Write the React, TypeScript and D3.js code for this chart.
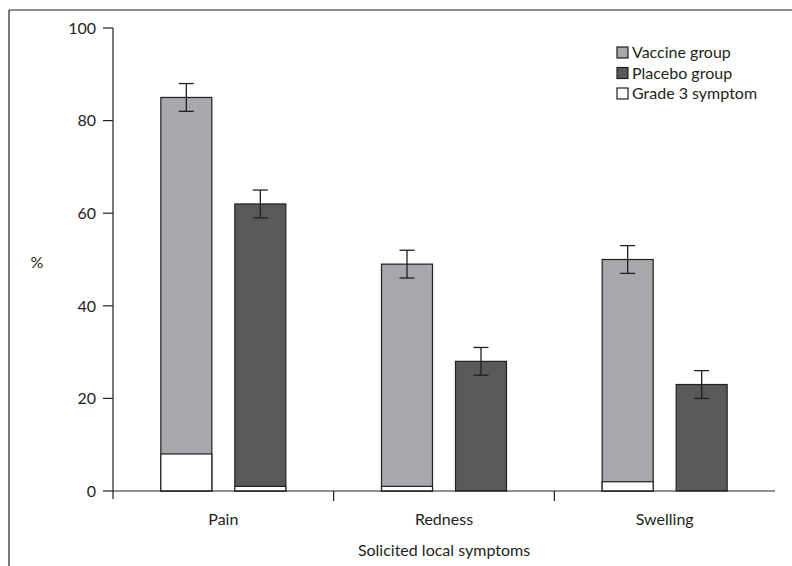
import React from "react";
import * as d3 from "d3";

const categories = ["Pain", "Redness", "Swelling"];
const vaccineValues = [85, 49, 50];
const vaccineErrors = [3, 3, 3];
const vaccineGrade3 = [8, 1, 2];
const placeboValues = [62, 28, 23];
const placeboErrors = [3, 3, 3];
const placeboGrade3 = [1, 0, 0];
const yTicks = [0, 20, 40, 60, 80, 100];
const legendLabels = ["Vaccine group", "Placebo group", "Grade 3 symptom"];

const W = 792;
const H = 566;
const FONT = "Lato, 'Open Sans', sans-serif";
const C_VAC = "#a7a8ab";
const C_PLA = "#58595b";
const C_STROKE = "#231f20";

export default function App() {
  const x = d3.scaleBand<string>().domain(categories).range([113, 775]).padding(0);
  const y = d3.scaleLinear().domain([0, 100]).range([491, 28]);
  const barW = 51;
  const off = 37;
  const cap = 7.5;

  const groups = [
    { vals: vaccineValues, errs: vaccineErrors, g3: vaccineGrade3, color: C_VAC, dx: -off },
    { vals: placeboValues, errs: placeboErrors, g3: placeboGrade3, color: C_PLA, dx: off },
  ];

  const legendColors = [C_VAC, C_PLA, "#ffffff"];

  return (
    <svg
      width={W}
      height={H}
      style={{ position: "absolute", left: 0, top: 0, background: "#fff" }}
      fontFamily={FONT}
    >
      {/* frame */}
      <line x1={9} y1={10} x2={W} y2={10} stroke={C_STROKE} strokeWidth={1.2} />
      <line x1={9} y1={10} x2={9} y2={H} stroke={C_STROKE} strokeWidth={1.2} />

      {/* bars */}
      {categories.map((c, i) => {
        const cx = (x(c) as number) + x.bandwidth() / 2;
        return (
          <g key={c}>
            {groups.map((g, j) => {
              const bx = cx + g.dx - barW / 2;
              const v = g.vals[i];
              const e = g.errs[i];
              const g3 = g.g3[i];
              const bc = cx + g.dx;
              return (
                <g key={j}>
                  <rect
                    x={bx}
                    y={y(v)}
                    width={barW}
                    height={y(0) - y(v)}
                    fill={g.color}
                    stroke={C_STROKE}
                    strokeWidth={1.2}
                  />
                  {g3 > 0 && (
                    <rect
                      x={bx}
                      y={y(g3)}
                      width={barW}
                      height={y(0) - y(g3)}
                      fill="#fff"
                      stroke={C_STROKE}
                      strokeWidth={1.2}
                    />
                  )}
                  <line x1={bc} x2={bc} y1={y(v + e)} y2={y(v - e)} stroke={C_STROKE} strokeWidth={1.3} />
                  <line x1={bc - cap} x2={bc + cap} y1={y(v + e)} y2={y(v + e)} stroke={C_STROKE} strokeWidth={1.3} />
                  <line x1={bc - cap} x2={bc + cap} y1={y(v - e)} y2={y(v - e)} stroke={C_STROKE} strokeWidth={1.3} />
                </g>
              );
            })}
            <text x={cx} y={525} textAnchor="middle" fontSize={16} fill={C_STROKE}>
              {c}
            </text>
          </g>
        );
      })}

      {/* x axis */}
      <line x1={113} x2={775} y1={y(0)} y2={y(0)} stroke={C_STROKE} strokeWidth={1.2} />
      {categories.slice(1).map((c) => (
        <line key={c} x1={x(c) as number} x2={x(c) as number} y1={y(0)} y2={y(0) + 10} stroke={C_STROKE} strokeWidth={1.2} />
      ))}

      {/* y axis */}
      <line x1={113} x2={113} y1={y(100)} y2={y(0) + 8} stroke={C_STROKE} strokeWidth={1.2} />
      {yTicks.map((t) => (
        <g key={t}>
          <line x1={103} x2={113} y1={y(t)} y2={y(t)} stroke={C_STROKE} strokeWidth={1.2} />
          <text x={96} y={y(t)} dy="0.36em" textAnchor="end" fontSize={16} fill={C_STROKE}>
            {t}
          </text>
        </g>
      ))}
      <text x={37} y={262} dy="0.36em" textAnchor="middle" fontSize={16} fill={C_STROKE}>
        %
      </text>
      <text x={444} y={556} textAnchor="middle" fontSize={16} fill={C_STROKE}>
        Solicited local symptoms
      </text>

      {/* legend */}
      {legendLabels.map((l, i) => (
        <g key={l} transform={`translate(617, ${47 + i * 20.5})`}>
          <rect x={0} y={0} width={11} height={11} fill={legendColors[i]} stroke={C_STROKE} strokeWidth={1.2} />
          <text x={15} y={5.5} dy="0.36em" fontSize={16} fill={C_STROKE}>
            {l}
          </text>
        </g>
      ))}
    </svg>
  );
}
